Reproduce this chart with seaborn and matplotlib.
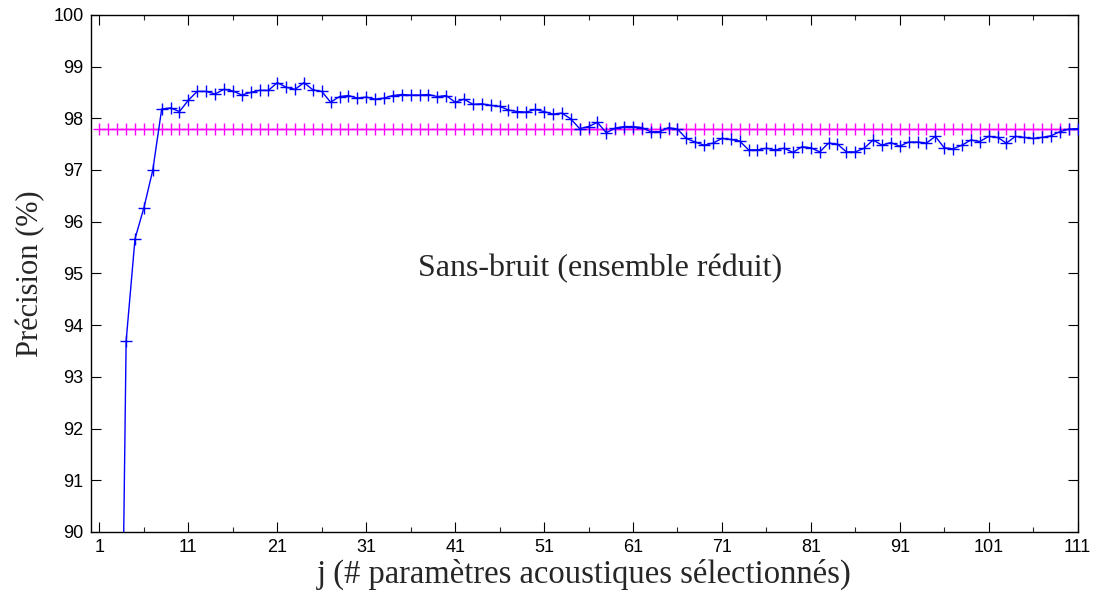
import numpy as np
import pandas as pd
import matplotlib
matplotlib.use("Agg")
import matplotlib.pyplot as plt
from matplotlib.ticker import FixedLocator
import seaborn as sns

# Number of selected acoustic parameters
j_values = list(range(1, 112))

# Precision (%) obtained with the j best parameters (reduced set, noise-free)
precision = [
    62.5, 73.0, 80.0, 93.69, 95.67, 96.27, 97.00, 98.18, 98.20, 98.13,
    98.35, 98.52, 98.52, 98.47, 98.56, 98.53, 98.45, 98.50, 98.54, 98.54,
    98.69, 98.60, 98.56, 98.69, 98.55, 98.52, 98.31, 98.42, 98.44, 98.39,
    98.41, 98.37, 98.39, 98.44, 98.46, 98.45, 98.45, 98.46, 98.42, 98.44,
    98.31, 98.37, 98.27, 98.28, 98.25, 98.23, 98.16, 98.13, 98.12, 98.17,
    98.13, 98.08, 98.10, 97.99, 97.80, 97.84, 97.92, 97.72, 97.81, 97.84,
    97.84, 97.82, 97.74, 97.74, 97.82, 97.79, 97.61, 97.54, 97.48, 97.52,
    97.61, 97.59, 97.56, 97.39, 97.39, 97.42, 97.39, 97.42, 97.34, 97.45,
    97.43, 97.35, 97.52, 97.50, 97.35, 97.35, 97.42, 97.58, 97.48, 97.53,
    97.46, 97.54, 97.54, 97.52, 97.65, 97.43, 97.41, 97.48, 97.58, 97.55,
    97.65, 97.63, 97.52, 97.65, 97.63, 97.61, 97.63, 97.66, 97.74, 97.79,
    97.80,
]

# Precision with the full parameter set (reference level)
precision_all = 97.8

x_ticks = [1, 11, 21, 31, 41, 51, 61, 71, 81, 91, 101, 111]
y_ticks = [90, 91, 92, 93, 94, 95, 96, 97, 98, 99, 100]

df = pd.DataFrame({"j": j_values, "precision": precision,
                   "reference": np.full(len(j_values), precision_all)})

sns.set_style("ticks")
plt.rcParams["font.family"] = ["Liberation Sans", "DejaVu Sans"]

fig = plt.figure(figsize=(10.99, 5.95), dpi=100)
ax = fig.add_axes([0.0824, 0.106, 0.8981, 0.869])

sns.lineplot(data=df, x="j", y="reference", ax=ax, color="#FF00FF",
             marker="+", markersize=8, markeredgecolor="#FF00FF",
             markeredgewidth=1.0, linewidth=1.0, zorder=2)
sns.lineplot(data=df, x="j", y="precision", ax=ax, color="#0000FF",
             marker="+", markersize=8, markeredgecolor="#0000FF",
             markeredgewidth=1.0, linewidth=1.0, zorder=3)

ax.set_xlim(0, 111)
ax.set_ylim(90, 100)
ax.xaxis.set_major_locator(FixedLocator(x_ticks))
ax.xaxis.set_minor_locator(FixedLocator([t + 5 for t in x_ticks[:-1]]))
ax.yaxis.set_major_locator(FixedLocator(y_ticks))
ax.set_xticklabels([str(t) for t in x_ticks])
ax.set_yticklabels([str(t) for t in y_ticks])

ax.tick_params(axis="both", which="major", direction="in", length=7,
               width=0.8, labelsize=13, top=True, right=True,
               colors="black", pad=5)
ax.tick_params(axis="x", which="minor", direction="in", length=3.5,
               width=0.8, top=True)
for side in ("left", "right", "top", "bottom"):
    ax.spines[side].set_visible(True)
    ax.spines[side].set_color("black")
    ax.spines[side].set_linewidth(1.0)

serif = ["Liberation Serif", "DejaVu Serif"]
ax.set_xlabel("j (# paramètres acoustiques sélectionnés)", fontsize=23.5,
              family=serif, labelpad=2)
ax.set_ylabel("Précision (%)", fontsize=22, family=serif, labelpad=6)
ax.text(57.3, 95.1, "Sans-bruit (ensemble réduit)", fontsize=23,
        family=serif, ha="center", va="center")

fig.savefig("out.png", dpi=100)
